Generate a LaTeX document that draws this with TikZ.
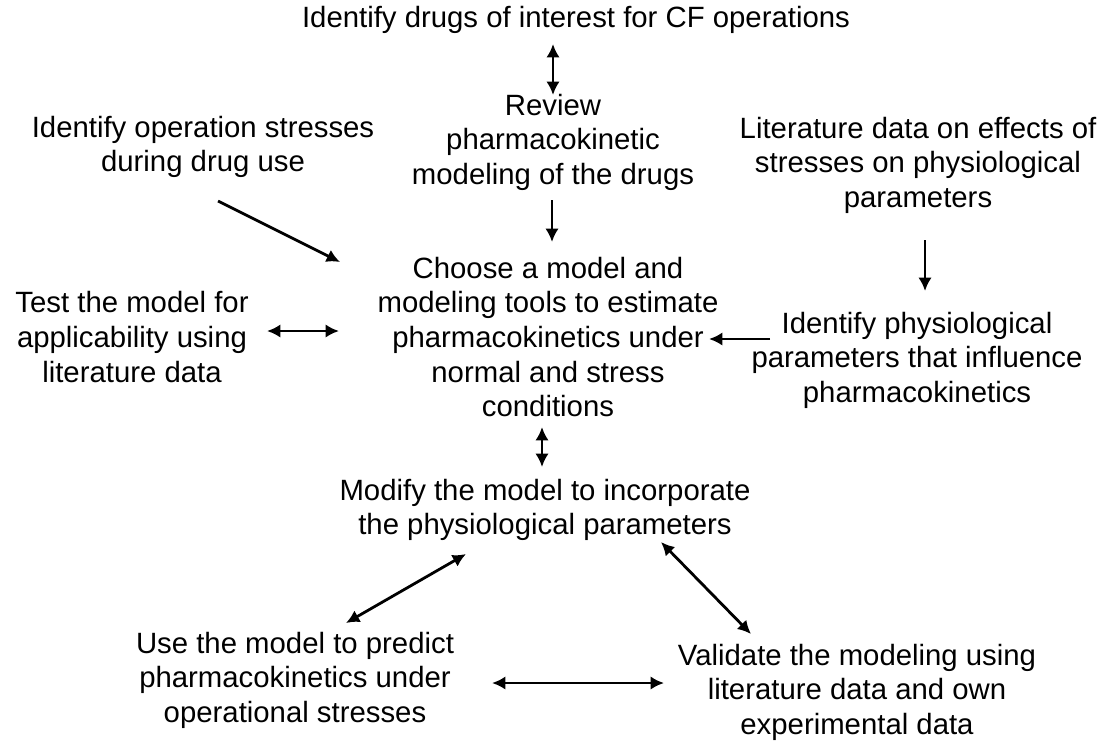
\documentclass[tikz,border=0pt]{standalone}
\usepackage{fontspec}
\setmainfont{Liberation Sans}
\usetikzlibrary{arrows.meta}
\begin{document}
\begin{tikzpicture}[x=0.75pt,y=-0.75pt,
  lbl/.style={align=center,inner sep=0pt,font=\fontsize{22}{25.9}\selectfont},
  conn/.style={line width=2.1pt,-{Latex[length=10pt,width=10pt]}},
  dconn/.style={line width=2.1pt,{Latex[length=10pt,width=10pt]}-{Latex[length=10pt,width=10pt]}}]
\useasboundingbox (0,0) rectangle (1112,744);
\node[lbl] (top) at (576,20) {Identify drugs of interest for CF operations};
\node[lbl] (rev) at (553,142) {Review\\pharmacokinetic\\modeling of the drugs};
\node[lbl] (ops) at (203,147) {Identify operation stresses\\during drug use};
\node[lbl] (lit) at (918,165) {Literature data on effects of\\stresses on physiological\\parameters};
\node[lbl] (choose) at (548,337) {Choose a model and\\modeling tools to estimate\\pharmacokinetics under\\normal and stress\\conditions};
\node[lbl] (test) at (132,337) {Test the model for\\applicability using\\literature data};
\node[lbl] (phys) at (917,360) {Identify physiological\\parameters that influence\\pharmacokinetics};
\node[lbl] (mod) at (545,510) {Modify the model to incorporate\\the physiological parameters};
\node[lbl] (use) at (295,680) {Use the model to predict\\pharmacokinetics under\\operational stresses};
\node[lbl] (val) at (857,692) {Validate the modeling using\\literature data and own\\experimental data};
% arrow end coordinates
\coordinate (a1s) at (553,44); \coordinate (a1e) at (553,95);
\coordinate (a2s) at (552,200); \coordinate (a2e) at (552,242);
\coordinate (a3s) at (218,201); \coordinate (a3e) at (340,262);
\coordinate (a4s) at (925,240); \coordinate (a4e) at (925,291);
\coordinate (a5s) at (267,331); \coordinate (a5e) at (339,331);
\coordinate (a6s) at (770,339); \coordinate (a6e) at (709,339);
\coordinate (a7s) at (542,427); \coordinate (a7e) at (542,467);
\coordinate (a8s) at (466,554); \coordinate (a8e) at (346,623);
\coordinate (a9s) at (661,542); \coordinate (a9e) at (751,634);
\coordinate (a10s) at (492,683); \coordinate (a10e) at (664,683);
\draw[dconn] (a1s) -- (a1e);
\draw[conn] (a2s) -- (a2e);
\draw[conn] (a3s) -- (a3e);
\draw[conn] (a4s) -- (a4e);
\draw[dconn] (a5s) -- (a5e);
\draw[conn] (a6s) -- (a6e);
\draw[dconn] (a7s) -- (a7e);
\draw[dconn] (a8s) -- (a8e);
\draw[dconn] (a9s) -- (a9e);
\draw[dconn] (a10s) -- (a10e);
\end{tikzpicture}
\end{document}
